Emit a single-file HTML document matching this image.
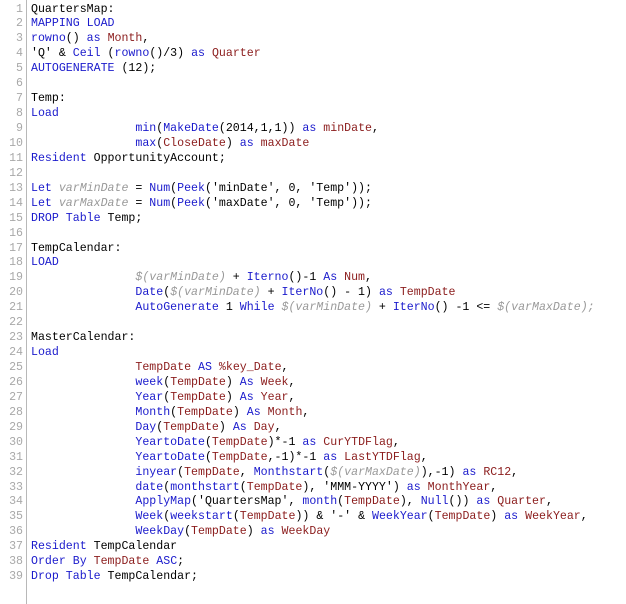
<!DOCTYPE html>
<html><head><meta charset="utf-8"><style>
html,body{margin:0;padding:0;background:#fff;}
body{width:626px;height:604px;position:relative;overflow:hidden;}
#sep{position:absolute;left:26px;top:0;width:1px;height:604px;background:#b8b8b8;}
#code{position:absolute;left:0;top:2.5px;font-family:"Liberation Mono",monospace;font-size:11.6px;line-height:14.95px;color:#000;}
.l{height:14.95px;white-space:pre;}
.n{display:inline-block;width:23px;text-align:right;color:#a8a8a8;margin-right:8px;}
.k{color:#1a1acc;}
.f{color:#8b1c1c;}
.v{color:#999;font-style:italic;}
</style></head><body>
<div id="sep"></div>
<div id="code"><div class="l"><span class="n">1</span>QuartersMap:</div><div class="l"><span class="n">2</span><span class="k">MAPPING LOAD</span></div><div class="l"><span class="n">3</span><span class="k">rowno</span>() <span class="k">as</span> <span class="f">Month</span>,</div><div class="l"><span class="n">4</span>'Q' &amp; <span class="k">Ceil</span> (<span class="k">rowno</span>()/3) <span class="k">as</span> <span class="f">Quarter</span></div><div class="l"><span class="n">5</span><span class="k">AUTOGENERATE</span> (12);</div><div class="l"><span class="n">6</span></div><div class="l"><span class="n">7</span>Temp:</div><div class="l"><span class="n">8</span><span class="k">Load</span></div><div class="l"><span class="n">9</span>               <span class="k">min</span>(<span class="k">MakeDate</span>(2014,1,1)) <span class="k">as</span> <span class="f">minDate</span>,</div><div class="l"><span class="n">10</span>               <span class="k">max</span>(<span class="f">CloseDate</span>) <span class="k">as</span> <span class="f">maxDate</span></div><div class="l"><span class="n">11</span><span class="k">Resident</span> OpportunityAccount;</div><div class="l"><span class="n">12</span></div><div class="l"><span class="n">13</span><span class="k">Let</span> <span class="v">varMinDate</span> = <span class="k">Num</span>(<span class="k">Peek</span>('minDate', 0, 'Temp'));</div><div class="l"><span class="n">14</span><span class="k">Let</span> <span class="v">varMaxDate</span> = <span class="k">Num</span>(<span class="k">Peek</span>('maxDate', 0, 'Temp'));</div><div class="l"><span class="n">15</span><span class="k">DROP Table</span> Temp;</div><div class="l"><span class="n">16</span></div><div class="l"><span class="n">17</span>TempCalendar:</div><div class="l"><span class="n">18</span><span class="k">LOAD</span></div><div class="l"><span class="n">19</span>               <span class="v">$(varMinDate)</span> + <span class="k">Iterno</span>()-1 <span class="k">As</span> <span class="f">Num</span>,</div><div class="l"><span class="n">20</span>               <span class="k">Date</span>(<span class="v">$(varMinDate)</span> + <span class="k">IterNo</span>() - 1) <span class="k">as</span> <span class="f">TempDate</span></div><div class="l"><span class="n">21</span>               <span class="k">AutoGenerate</span> 1 <span class="k">While</span> <span class="v">$(varMinDate)</span> + <span class="k">IterNo</span>() -1 &lt;= <span class="v">$(varMaxDate);</span></div><div class="l"><span class="n">22</span></div><div class="l"><span class="n">23</span>MasterCalendar:</div><div class="l"><span class="n">24</span><span class="k">Load</span></div><div class="l"><span class="n">25</span>               <span class="f">TempDate</span> <span class="k">AS</span> <span class="f">%key_Date</span>,</div><div class="l"><span class="n">26</span>               <span class="k">week</span>(<span class="f">TempDate</span>) <span class="k">As</span> <span class="f">Week</span>,</div><div class="l"><span class="n">27</span>               <span class="k">Year</span>(<span class="f">TempDate</span>) <span class="k">As</span> <span class="f">Year</span>,</div><div class="l"><span class="n">28</span>               <span class="k">Month</span>(<span class="f">TempDate</span>) <span class="k">As</span> <span class="f">Month</span>,</div><div class="l"><span class="n">29</span>               <span class="k">Day</span>(<span class="f">TempDate</span>) <span class="k">As</span> <span class="f">Day</span>,</div><div class="l"><span class="n">30</span>               <span class="k">YeartoDate</span>(<span class="f">TempDate</span>)*-1 <span class="k">as</span> <span class="f">CurYTDFlag</span>,</div><div class="l"><span class="n">31</span>               <span class="k">YeartoDate</span>(<span class="f">TempDate</span>,-1)*-1 <span class="k">as</span> <span class="f">LastYTDFlag</span>,</div><div class="l"><span class="n">32</span>               <span class="k">inyear</span>(<span class="f">TempDate</span>, <span class="k">Monthstart</span>(<span class="v">$(varMaxDate)</span>),-1) <span class="k">as</span> <span class="f">RC12</span>,</div><div class="l"><span class="n">33</span>               <span class="k">date</span>(<span class="k">monthstart</span>(<span class="f">TempDate</span>), 'MMM-YYYY') <span class="k">as</span> <span class="f">MonthYear</span>,</div><div class="l"><span class="n">34</span>               <span class="k">ApplyMap</span>('QuartersMap', <span class="k">month</span>(<span class="f">TempDate</span>), <span class="k">Null</span>()) <span class="k">as</span> <span class="f">Quarter</span>,</div><div class="l"><span class="n">35</span>               <span class="k">Week</span>(<span class="k">weekstart</span>(<span class="f">TempDate</span>)) &amp; '-' &amp; <span class="k">WeekYear</span>(<span class="f">TempDate</span>) <span class="k">as</span> <span class="f">WeekYear</span>,</div><div class="l"><span class="n">36</span>               <span class="k">WeekDay</span>(<span class="f">TempDate</span>) <span class="k">as</span> <span class="f">WeekDay</span></div><div class="l"><span class="n">37</span><span class="k">Resident</span> TempCalendar</div><div class="l"><span class="n">38</span><span class="k">Order By</span> <span class="f">TempDate</span> <span class="k">ASC</span>;</div><div class="l"><span class="n">39</span><span class="k">Drop Table</span> TempCalendar;</div></div>
</body></html>
